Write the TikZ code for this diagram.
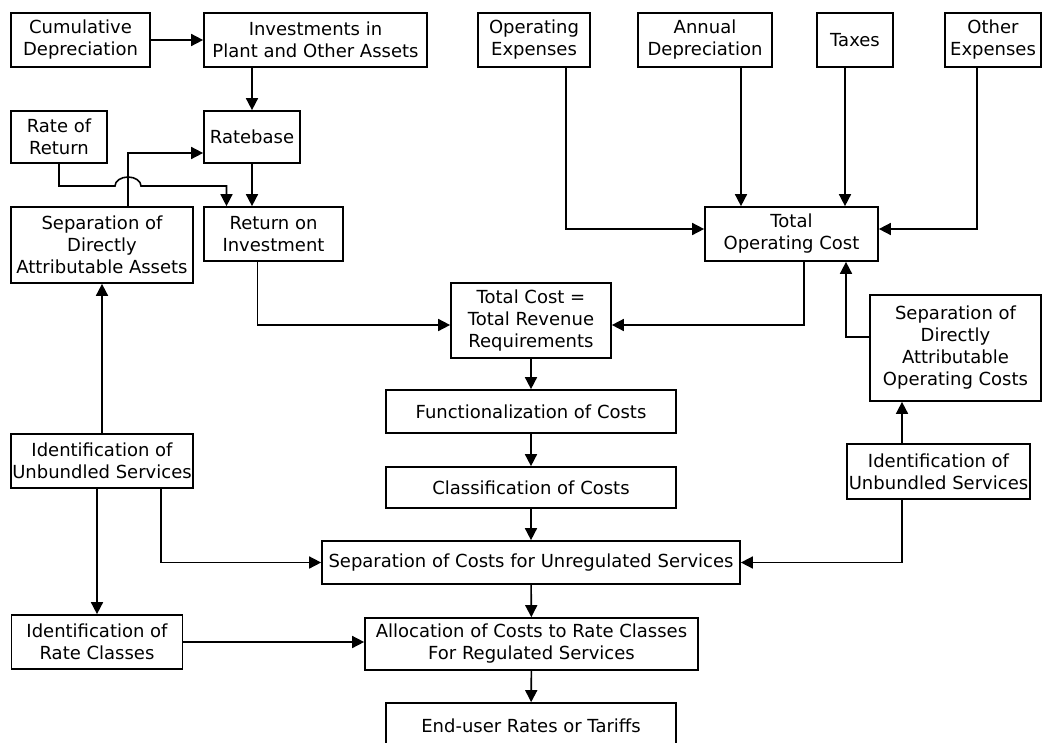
\documentclass[tikz,border=0pt]{standalone}
\usepackage{fontspec}
\setmainfont{DejaVu Sans}
\usetikzlibrary{arrows.meta}

\begin{document}
\begin{tikzpicture}[x=1pt,y=-1pt,
    box/.style={draw, line width=1.7pt, align=center, inner sep=0pt,
        font=\fontsize{18}{22}\selectfont},
    arr/.style={line width=1.6pt, -{Triangle[length=12pt,width=12pt]}}]
    \useasboundingbox (0,0) rectangle (1044,742);

    % Asset side (top left)
    \node[box, minimum width=139, minimum height=54] (cumdep) at (80.5,40) {Cumulative\\Depreciation};
    \node[box, minimum width=223, minimum height=54] (invest) at (315.5,40) {Investments in\\Plant and Other Assets};
    \node[box, minimum width=96, minimum height=52] (rate) at (59,137) {Rate of\\Return};
    \node[box, minimum width=96, minimum height=52] (ratebase) at (252,137) {Ratebase};
    \node[box, minimum width=182, minimum height=76] (sepassets) at (102,245) {Separation of\\Directly\\Attributable Assets};
    \node[box, minimum width=139, minimum height=54] (roi) at (273.5,234) {Return on\\Investment};

    % Expense side (top right)
    \node[box, minimum width=112, minimum height=54] (opex) at (534,40) {Operating\\Expenses};
    \node[box, minimum width=134, minimum height=54] (anndep) at (705,40) {Annual\\Depreciation};
    \node[box, minimum width=76, minimum height=54] (taxes) at (855,40) {Taxes};
    \node[box, minimum width=96, minimum height=54] (other) at (993,40) {Other\\Expenses};
    \node[box, minimum width=173, minimum height=54] (toc) at (791.5,234) {Total\\Operating Cost};
    \node[box, minimum width=171, minimum height=106] (sepop) at (955.5,348) {Separation of\\Directly\\Attributable\\Operating Costs};
    \node[box, minimum width=183, minimum height=55] (identR) at (938.5,471.5) {Identification of\\Unbundled Services};

    % Main chain (centre)
    \node[box, minimum width=160, minimum height=75] (total) at (531,320.5) {Total Cost =\\Total Revenue\\Requirements};
    \node[box, minimum width=290, minimum height=43] (func) at (531,411.5) {Functionalization of Costs};
    \node[box, minimum width=290, minimum height=41] (class) at (531,487.5) {Classification of Costs};
    \node[box, minimum width=418, minimum height=43] (sepunreg) at (531,562.5) {Separation of Costs for Unregulated Services};
    \node[box, minimum width=333, minimum height=52] (alloc) at (531.5,644) {Allocation of Costs to Rate Classes\\For Regulated Services};
    \node[box, minimum width=290, minimum height=46] (enduser) at (531,726) {End-user Rates or Tariffs};

    % Left column (bottom)
    \node[box, minimum width=182, minimum height=54] (identL) at (102,461) {Identification of\\Unbundled Services};
    \node[box, minimum width=171, minimum height=54] (ratecls) at (97,642) {Identification of\\Rate Classes};

    % Attachment points off the box centres
    \coordinate (sa) at ([xshift=26pt]sepassets.north);
    \coordinate (rb) at ([yshift=-16pt]ratebase.west);
    \coordinate (ri) at ([xshift=-47pt]roi.north);
    \coordinate (hop) at (sa |- 0,186);
    \coordinate (rs) at ([xshift=-16pt]roi.south);
    \coordinate (ts) at ([xshift=12.5pt]toc.south);
    \coordinate (tu) at ([xshift=54.5pt]toc.south);
    \coordinate (oe) at ([xshift=32pt]opex.south);
    \coordinate (ad) at ([xshift=36pt]anndep.south);
    \coordinate (tx) at ([xshift=-10pt]taxes.south);
    \coordinate (ot) at ([xshift=-16pt]other.south);
    \coordinate (so) at ([yshift=11pt]sepop.west);
    \coordinate (irn) at ([xshift=-36.5pt]identR.north);
    \coordinate (irs) at ([xshift=-36.5pt]identR.south);
    \coordinate (ils) at ([xshift=59pt]identL.south);

    % Asset connectors
    \draw[arr] (cumdep) -- (invest);
    \draw[arr] (invest.south -| ratebase) -- (ratebase);
    \draw[arr] (ratebase) -- (roi.north -| ratebase);
    \draw[arr] (sa) |- (rb);
    \draw[arr] (rate.south) |- ([xshift=-13pt]hop) arc (180:0:13pt and 9pt) -- (ri |- hop) -- (ri);
    \draw[arr] (rs) |- ([yshift=-4.5pt]total.west);

    % Expense connectors
    \draw[arr] (oe) |- ([yshift=5pt]toc.west);
    \draw[arr] (ad) -- (ad |- toc.north);
    \draw[arr] (tx) -- (tx |- toc.north);
    \draw[arr] (ot) |- ([yshift=5pt]toc.east);
    \draw[arr] (ts) |- ([yshift=-4.5pt]total.east);
    \draw[arr] (so) -| (tu);
    \draw[arr] (irn) -- (irn |- sepop.south);
    \draw[arr] (irs) |- (sepunreg.east);

    % Main chain connectors
    \draw[arr] (total) -- (func);
    \draw[arr] (func) -- (class);
    \draw[arr] (class) -- (sepunreg);
    \draw[arr] (sepunreg) -- (alloc);
    \draw[arr] (alloc) -- (enduser);

    % Left column connectors
    \draw[arr] (identL) -- (sepassets);
    \draw[arr] (identL.south -| ratecls) -- (ratecls);
    \draw[arr] (ils) |- (sepunreg.west);
    \draw[arr] (ratecls.east) -- (ratecls.east -| alloc.west);
\end{tikzpicture}
\end{document}
